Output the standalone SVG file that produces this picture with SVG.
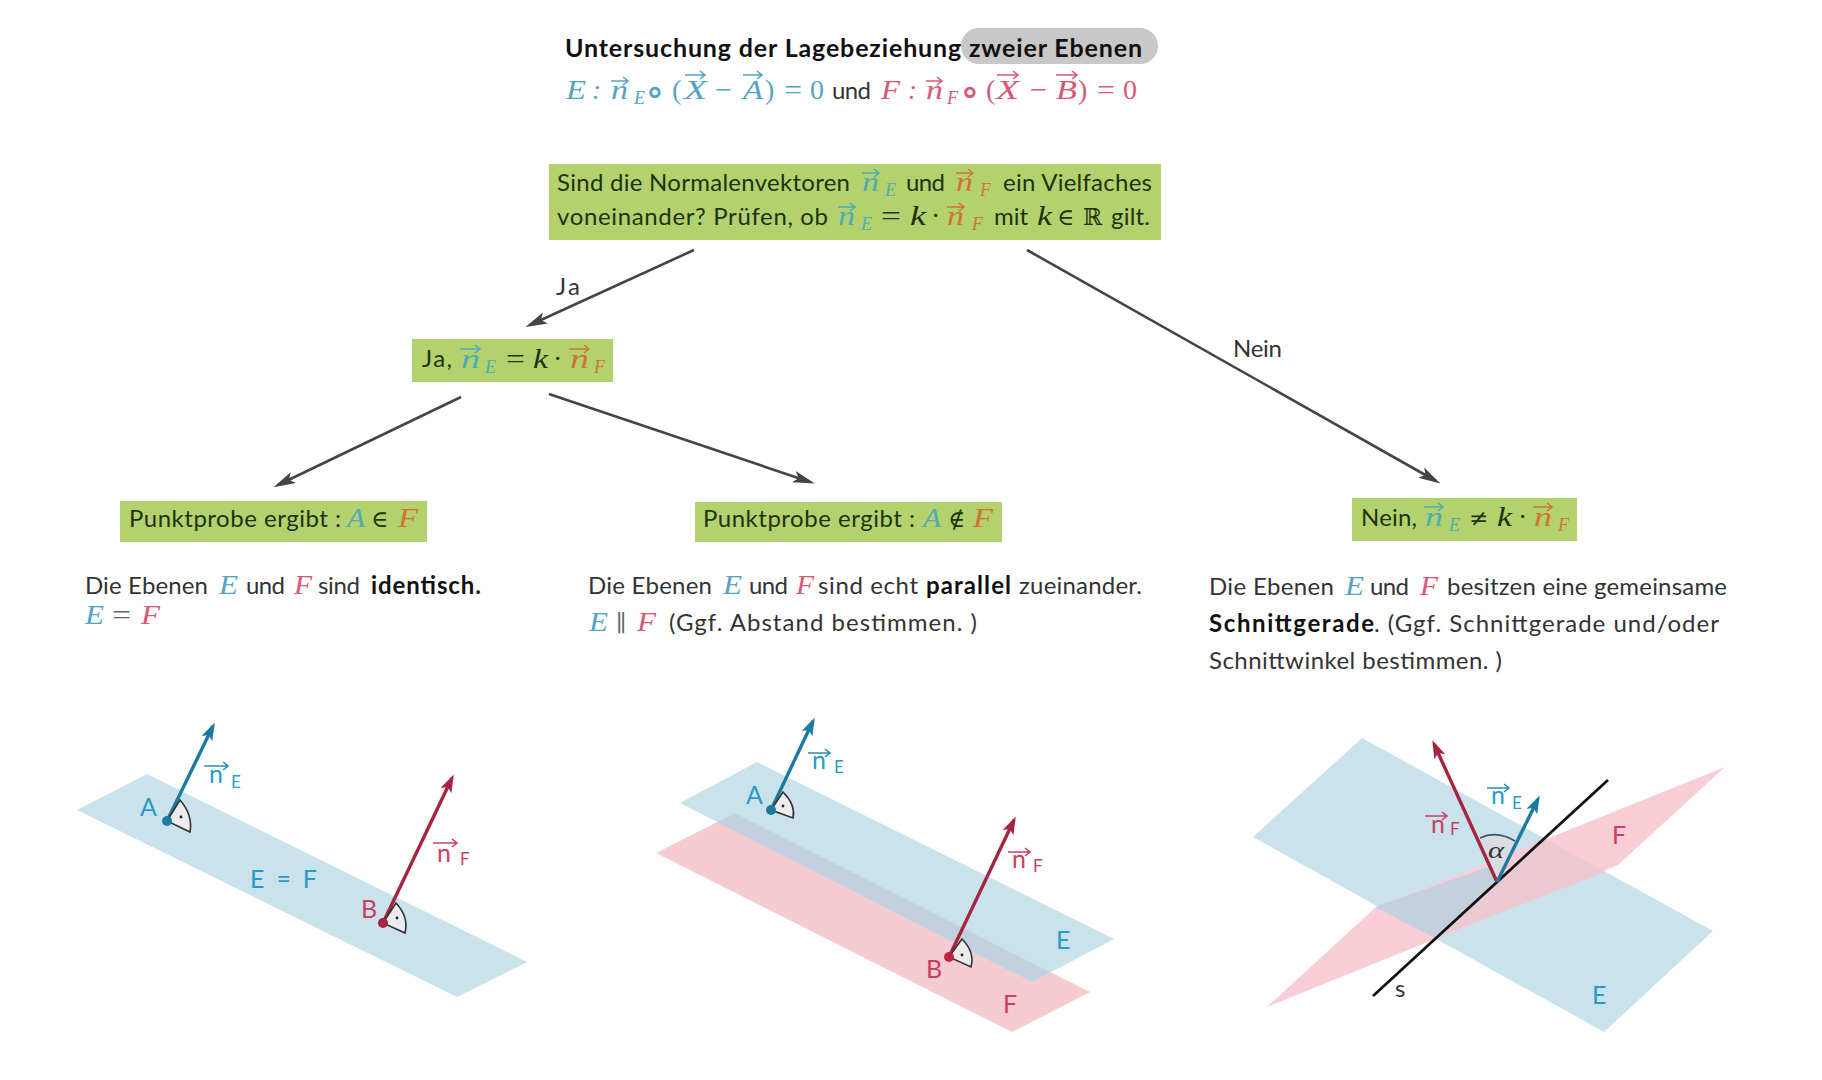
<svg xmlns="http://www.w3.org/2000/svg" width="1822" height="1080" viewBox="0 0 1822 1080">
<style>
text{font-family:"Lato","Noto Sans","Liberation Sans",sans-serif;font-size:24px;fill:#333}
.t{fill:#111;font-weight:700;font-size:25px}
.d{fill:#1f3310}
.b{font-weight:700;fill:#111}
.m{font-family:"Liberation Serif","DejaVu Serif",serif;font-style:italic;font-size:27px}
.o{font-family:"Liberation Serif","DejaVu Serif",serif;font-style:normal;font-size:28px}
.u{font-family:"DejaVu Serif","Liberation Serif",serif;font-style:normal;font-size:23px}
.r{font-family:"DejaVu Serif","Liberation Serif",serif;font-style:normal;font-size:40px}
.s{font-family:"Liberation Serif","DejaVu Serif",serif;font-style:italic;font-size:18px}
.be{fill:#56a3c2}.re{fill:#d65a76}
.te{fill:#4eaeb0}.or{fill:#cf7532}
.dk{fill:#1f3310}
.lb{fill:#2a9cc4;font-size:25px}.lr{fill:#c93f5f;font-size:25px}
.sb{font-size:17px}
.box{fill:#b3d26e}
.v{fill:none;stroke-width:1.6}
.vb{stroke:#56a3c2}.vr{stroke:#d65a76}.vt{stroke:#4eaeb0}.vo{stroke:#cf7532}.vl{stroke:#2a8fb2}.vm{stroke:#c93f5f}
.conn{fill:none;stroke:#444;stroke-width:2.6}
.pe{fill:#c9e2ec}.pf{fill:#f4cbd1}.ov{fill:#c3d1de}
.ae{fill:none;stroke:#1b7aa0;stroke-width:3.4}
.af{fill:none;stroke:#a5243f;stroke-width:3.4}
.ra{fill:#ececec;stroke:#333;stroke-width:1.6}
</style>
<defs>
<marker id="mg" markerUnits="userSpaceOnUse" viewBox="0 0 22 14" markerWidth="22" markerHeight="14" refX="17" refY="7" orient="auto"><path d="M0 1 22 7 0 13 5 7z" fill="#444"/></marker>
<marker id="mb" markerUnits="userSpaceOnUse" viewBox="0 0 18 12" markerWidth="18" markerHeight="12" refX="14" refY="6" orient="auto"><path d="M0 0 18 6 0 12 4 6z" fill="#1b7aa0"/></marker>
<marker id="mr" markerUnits="userSpaceOnUse" viewBox="0 0 18 12" markerWidth="18" markerHeight="12" refX="14" refY="6" orient="auto"><path d="M0 0 18 6 0 12 4 6z" fill="#a5243f"/></marker>
</defs>
<rect width="1822" height="1080" fill="#fff"/>

<g id="title">
<rect x="961" y="28" width="197" height="36" rx="18" fill="#c8c8c8"/>
<text class="t" x="565" y="57" textLength="577" lengthAdjust="spacing">Untersuchung der Lagebeziehung zweier Ebenen</text>
<text class="m be" x="566" y="99" textLength="20" lengthAdjust="spacingAndGlyphs">E</text><text class="m be" x="592" y="99">:</text><text class="m be" x="611" y="99" textLength="17" lengthAdjust="spacingAndGlyphs">n</text><text class="s be" x="634" y="104">E</text>
<text class="r be" x="645" y="105">∘</text><text class="o be" x="672" y="99">(</text><text class="m be" x="684" y="99" textLength="23" lengthAdjust="spacingAndGlyphs">X</text><text class="o be" x="715" y="99" textLength="17" lengthAdjust="spacingAndGlyphs">−</text><text class="m be" x="743" y="99" textLength="20" lengthAdjust="spacingAndGlyphs">A</text><text class="o be" x="765" y="99">)</text><text class="o be" x="784" y="99" textLength="18" lengthAdjust="spacingAndGlyphs">=</text><text class="o be" x="810" y="99">0</text>
<text x="832" y="99" textLength="39">und</text>
<text class="m re" x="881" y="99" textLength="19" lengthAdjust="spacingAndGlyphs">F</text><text class="m re" x="908" y="99">:</text><text class="m re" x="926" y="99" textLength="17" lengthAdjust="spacingAndGlyphs">n</text><text class="s re" x="947" y="104">F</text>
<text class="r re" x="960" y="105">∘</text><text class="o re" x="986" y="99">(</text><text class="m re" x="996" y="99" textLength="23" lengthAdjust="spacingAndGlyphs">X</text><text class="o re" x="1030" y="99" textLength="17" lengthAdjust="spacingAndGlyphs">−</text><text class="m re" x="1056" y="99" textLength="21" lengthAdjust="spacingAndGlyphs">B</text><text class="o re" x="1078" y="99">)</text><text class="o re" x="1097" y="99" textLength="18" lengthAdjust="spacingAndGlyphs">=</text><text class="o re" x="1123" y="99">0</text>
<path class="v vb" d="M611 81h17m-5-4 5 4-5 4M685 75h20m-5-4 5 4-5 4M743 75h19m-5-4 5 4-5 4"/>
<path class="v vr" d="M926 81h16m-5-4 5 4-5 4M997 75h21m-5-4 5 4-5 4M1056 75h21m-5-4 5 4-5 4"/>
</g>

<g id="connectors">
<path class="conn" marker-end="url(#mg)" d="M694 250 530 325"/>
<path class="conn" marker-end="url(#mg)" d="M1027 250 1436 481"/>
<path class="conn" marker-end="url(#mg)" d="M461 397 278 485"/>
<path class="conn" marker-end="url(#mg)" d="M549 394 810 482"/>
<text x="556" y="295" textLength="24">Ja</text>
<text x="1233" y="357" textLength="49">Nein</text>
</g>

<g id="node-frage">
<rect class="box" x="549" y="164" width="612" height="76"/>
<text class="d" x="557" y="191" textLength="293">Sind die Normalenvektoren</text>
<text class="m te" x="862" y="191" textLength="17" lengthAdjust="spacingAndGlyphs">n</text><text class="s te" x="885" y="196">E</text>
<text class="d" x="906" y="191" textLength="39">und</text>
<text class="m or" x="956" y="191" textLength="17" lengthAdjust="spacingAndGlyphs">n</text><text class="s or" x="980" y="196">F</text>
<text class="d" x="1003" y="191" textLength="149">ein Vielfaches</text>
<text class="d" x="557" y="225" textLength="271">voneinander? Prüfen, ob</text>
<text class="m te" x="838" y="225" textLength="17" lengthAdjust="spacingAndGlyphs">n</text><text class="s te" x="861" y="230">E</text>
<text class="o dk" x="881" y="225" textLength="20" lengthAdjust="spacingAndGlyphs">=</text><text class="m dk" x="910" y="225" textLength="16" lengthAdjust="spacingAndGlyphs">k</text><text class="o dk" x="931" y="225">·</text>
<text class="m or" x="947" y="225" textLength="17" lengthAdjust="spacingAndGlyphs">n</text><text class="s or" x="972" y="230">F</text>
<text class="d" x="994" y="225" textLength="34">mit</text>
<text class="m dk" x="1037" y="225" textLength="15" lengthAdjust="spacingAndGlyphs">k</text><text class="u dk" x="1057" y="225">∈</text><text class="u dk" x="1083" y="225">ℝ</text>
<text class="d" x="1111" y="225" textLength="39">gilt.</text>
<path class="v vt" d="M862 173h17m-5-4 5 4-5 4M838 207h17m-5-4 5 4-5 4"/>
<path class="v vo" d="M956 173h17m-5-4 5 4-5 4M947 207h17m-5-4 5 4-5 4"/>
</g>

<g id="node-ja">
<rect class="box" x="412" y="339" width="201" height="43"/>
<text class="d" x="422" y="367" textLength="30">Ja,</text>
<text class="m te" x="461" y="368" textLength="19" lengthAdjust="spacingAndGlyphs">n</text><text class="s te" x="485" y="373">E</text>
<text class="o dk" x="506" y="368" textLength="19" lengthAdjust="spacingAndGlyphs">=</text><text class="m dk" x="533" y="368" textLength="15" lengthAdjust="spacingAndGlyphs">k</text><text class="o dk" x="553" y="368">·</text>
<text class="m or" x="570" y="368" textLength="19" lengthAdjust="spacingAndGlyphs">n</text><text class="s or" x="594" y="373">F</text>
<path class="v vt" d="M460 349h20m-5-4 5 4-5 4"/><path class="v vo" d="M569 349h20m-5-4 5 4-5 4"/>
</g>

<g id="node-nein">
<rect class="box" x="1352" y="498" width="225" height="43"/>
<text class="d" x="1361" y="526" textLength="56">Nein,</text>
<text class="m te" x="1425" y="526" textLength="18" lengthAdjust="spacingAndGlyphs">n</text><text class="s te" x="1449" y="531">E</text>
<text class="u dk" x="1469" y="526">≠</text><text class="m dk" x="1497" y="526" textLength="15" lengthAdjust="spacingAndGlyphs">k</text><text class="o dk" x="1518" y="526">·</text>
<text class="m or" x="1534" y="526" textLength="18" lengthAdjust="spacingAndGlyphs">n</text><text class="s or" x="1558" y="531">F</text>
<path class="v vt" d="M1424 507h19m-5-4 5 4-5 4"/><path class="v vo" d="M1533 507h19m-5-4 5 4-5 4"/>
</g>

<g id="node-punkt1">
<rect class="box" x="120" y="501" width="307" height="41"/>
<text class="d" x="129" y="527" textLength="212">Punktprobe ergibt :</text>
<text class="m te" x="347" y="527" textLength="18" lengthAdjust="spacingAndGlyphs">A</text><text class="u dk" x="371" y="527">∈</text><text class="m or" x="398" y="527" textLength="20" lengthAdjust="spacingAndGlyphs">F</text>
</g>

<g id="node-punkt2">
<rect class="box" x="695" y="502" width="307" height="40"/>
<text class="d" x="703" y="527" textLength="212">Punktprobe ergibt :</text>
<text class="m te" x="923" y="527" textLength="18" lengthAdjust="spacingAndGlyphs">A</text><text class="u dk" x="948" y="527">∉</text><text class="m or" x="973" y="527" textLength="20" lengthAdjust="spacingAndGlyphs">F</text>
</g>

<g id="text-identisch">
<text x="85" y="594" textLength="123">Die Ebenen</text><text class="m be" x="219" y="594" textLength="19" lengthAdjust="spacingAndGlyphs">E</text><text x="246" y="594" textLength="39">und</text><text class="m re" x="294" y="594" textLength="18" lengthAdjust="spacingAndGlyphs">F</text><text x="318" y="594" textLength="42">sind</text><text class="b" x="371" y="594" textLength="110">identisch.</text>
<text class="m be" x="85" y="624" textLength="19" lengthAdjust="spacingAndGlyphs">E</text><text class="o" x="112" y="624" textLength="19" lengthAdjust="spacingAndGlyphs" style="fill:#666">=</text><text class="m re" x="141" y="624" textLength="19" lengthAdjust="spacingAndGlyphs">F</text>
</g>

<g id="text-parallel">
<text x="588" y="594" textLength="124">Die Ebenen</text><text class="m be" x="723" y="594" textLength="19" lengthAdjust="spacingAndGlyphs">E</text><text x="749" y="594" textLength="39">und</text><text class="m re" x="796" y="594" textLength="18" lengthAdjust="spacingAndGlyphs">F</text><text x="818" y="594" textLength="100">sind echt</text><text class="b" x="926" y="594" textLength="85">parallel</text><text x="1019" y="594" textLength="123">zueinander.</text>
<text class="m be" x="589" y="631" textLength="19" lengthAdjust="spacingAndGlyphs">E</text><text class="u" x="616" y="631" style="fill:#666">∥</text><text class="m re" x="637" y="631" textLength="19" lengthAdjust="spacingAndGlyphs">F</text><text x="669" y="631" textLength="308">(Ggf. Abstand bestimmen. )</text>
</g>

<g id="text-schnitt">
<text x="1209" y="595" textLength="125">Die Ebenen</text><text class="m be" x="1345" y="595" textLength="19" lengthAdjust="spacingAndGlyphs">E</text><text x="1370" y="595" textLength="39">und</text><text class="m re" x="1420" y="595" textLength="18" lengthAdjust="spacingAndGlyphs">F</text><text x="1447" y="595" textLength="280">besitzen eine gemeinsame</text>
<text class="b" x="1209" y="632" textLength="165">Schnittgerade</text><text x="1374" y="632" textLength="345">. (Ggf. Schnittgerade und/oder</text>
<text x="1209" y="669" textLength="293">Schnittwinkel bestimmen. )</text>
</g>

<g id="bild-identisch">
<polygon class="pe" points="147,774 527,962 457,997 77,810"/>
<path class="ae" marker-end="url(#mb)" d="M167 821 213 726"/>
<path class="af" marker-end="url(#mr)" d="M383 923 452 778"/>
<path class="ra" d="M167 821 180 800Q193 815 190 832Z"/><circle cx="181" cy="817" r="1.4" fill="#222"/>
<path class="ra" d="M383 923 396 903Q409 917 405 933Z"/><circle cx="397" cy="918" r="1.4" fill="#222"/>
<circle cx="167" cy="821" r="5" fill="#1b7aa0"/><circle cx="383" cy="923" r="5" fill="#a5243f"/>
<text class="lb" x="140" y="816">A</text><text class="lb" x="209" y="783">n</text><text class="lb sb" x="231" y="788">E</text>
<path class="v vl" d="M204 766h24m-5-4 5 4-5 4"/>
<text class="lb" x="250" y="888" textLength="67">E = F</text>
<text class="lr" x="361" y="918">B</text><text class="lr" x="437" y="862">n</text><text class="lr sb" x="460" y="865">F</text>
<path class="v vm" d="M433 843h24m-5-4 5 4-5 4"/>
</g>

<g id="bild-parallel">
<polygon class="pf" points="735,813 1090,992 1012,1032 656,853"/>
<polygon class="pe" points="757,762 1114,939 1032,982 680,803"/>
<polygon class="ov" points="735,813 1050,972 1032,982 717,822"/>
<path class="ae" marker-end="url(#mb)" d="M771 810 813 721"/>
<path class="af" marker-end="url(#mr)" d="M949 957 1014 820"/>
<path class="ra" d="M771 810 783 792Q796 805 793 818Z"/><circle cx="783" cy="806" r="1.4" fill="#222"/>
<path class="ra" d="M949 957 962 939Q975 952 971 967Z"/><circle cx="962" cy="955" r="1.4" fill="#222"/>
<circle cx="771" cy="810" r="5" fill="#1b7aa0"/><circle cx="949" cy="957" r="5" fill="#c4203f"/>
<text class="lb" x="746" y="804">A</text><text class="lb" x="812" y="769">n</text><text class="lb sb" x="834" y="773">E</text>
<path class="v vl" d="M808 753h22m-5-4 5 4-5 4"/>
<text class="lr" x="1012" y="868">n</text><text class="lr sb" x="1033" y="872">F</text>
<path class="v vm" d="M1008 852h22m-5-4 5 4-5 4"/>
<text class="lr" x="926" y="978">B</text><text class="lb" x="1056" y="949">E</text><text class="lr" x="1003" y="1013">F</text>
</g>

<g id="bild-schnitt">
<polygon class="pe" points="1362,738 1713,931 1604,1032 1253,837"/>
<polygon points="1725,767 1618,865 1267,1007 1375,908" fill="#f9cdd5"/>
<polygon class="ov" points="1375,907 1488,867 1497,882 1437,939"/>
<polygon fill="#ecc9d3" points="1497,882 1542,837 1605,872 1440,936"/>
<path fill="#d9dde2" d="M1497 882 1480 838Q1497 830 1515 841Z"/>
<path fill="none" stroke="#3a5566" stroke-width="1.8" d="M1480 838Q1497 830 1515 841"/>
<path d="M1373 996 1608 780" fill="none" stroke="#111" stroke-width="2.8"/>
<path class="af" marker-end="url(#mr)" d="M1497 882 1434 744"/>
<path class="ae" marker-end="url(#mb)" d="M1497 882 1538 799"/>
<text class="lb" x="1491" y="804">n</text><text class="lb sb" x="1512" y="809">E</text>
<path class="v vl" d="M1487 788h22m-5-4 5 4-5 4"/>
<text class="lr" x="1431" y="833">n</text><text class="lr sb" x="1450" y="835">F</text>
<path class="v vm" d="M1425 816h22m-5-4 5 4-5 4"/>
<text class="m" x="1488" y="858" textLength="16" lengthAdjust="spacingAndGlyphs" style="fill:#333;font-size:24px">α</text>
<text class="lr" x="1612" y="844">F</text><text class="lb" x="1592" y="1004">E</text>
<text x="1395" y="997" font-size="22">s</text>
</g>
</svg>
